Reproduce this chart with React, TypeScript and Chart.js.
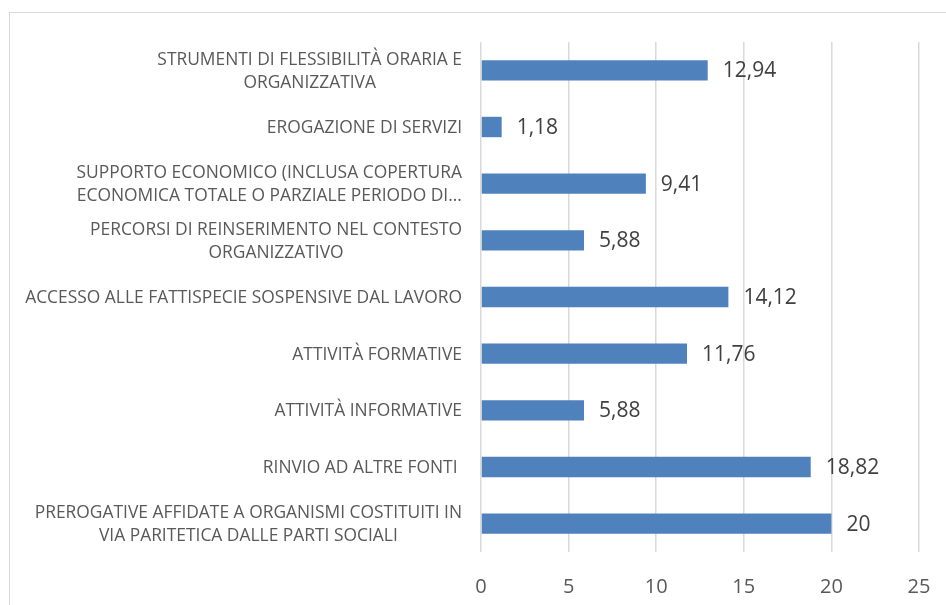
import React, { useEffect, useRef } from "react";
import { Chart, registerables } from "chart.js";

Chart.register(...registerables);

const categories: string[][] = [
  ["STRUMENTI DI FLESSIBILITÀ ORARIA E", "ORGANIZZATIVA"],
  ["EROGAZIONE DI SERVIZI"],
  ["SUPPORTO ECONOMICO (INCLUSA COPERTURA", "ECONOMICA TOTALE O PARZIALE PERIODO DI…"],
  ["PERCORSI DI REINSERIMENTO NEL CONTESTO", "ORGANIZZATIVO"],
  ["ACCESSO ALLE FATTISPECIE SOSPENSIVE DAL LAVORO"],
  ["ATTIVITÀ FORMATIVE"],
  ["ATTIVITÀ INFORMATIVE"],
  ["RINVIO AD ALTRE FONTI "],
  ["PREROGATIVE AFFIDATE A ORGANISMI COSTITUITI IN", "VIA PARITETICA DALLE PARTI SOCIALI"],
];

const values: number[] = [12.94, 1.18, 9.41, 5.88, 14.12, 11.76, 5.88, 18.82, 20];

const xTicks: number[] = [0, 5, 10, 15, 20, 25];

const fmt = (v: number) => String(v).replace(".", ",");

const FONT = '"Open Sans", "Liberation Sans", sans-serif';

const labelPlugin = {
  id: "customLabels",
  afterDraw(chart: any) {
    const ctx = chart.ctx as CanvasRenderingContext2D;
    const y = chart.scales.y;
    const x = chart.scales.x;
    ctx.save();
    ctx.font = `17.4px ${FONT}`;
    ctx.fillStyle = "#595959";
    ctx.textBaseline = "middle";
    ctx.textAlign = "center";
    const lineH = 23;
    categories.forEach((lines, i) => {
      const cy = y.getPixelForValue(i) + 1;
      const w = Math.max(...lines.map((l) => ctx.measureText(l).width));
      const cx = x.left - 19 - w / 2;
      lines.forEach((l, j) => {
        ctx.fillText(l, cx, cy + (j - (lines.length - 1) / 2) * lineH);
      });
    });
    const meta = chart.getDatasetMeta(0);
    ctx.font = `21px ${FONT}`;
    ctx.fillStyle = "#404040";
    ctx.textAlign = "left";
    meta.data.forEach((bar: any, i: number) => {
      ctx.fillText(fmt(values[i]), bar.x + 15, bar.y + 1);
    });
    ctx.restore();
  },
};

export default function App() {
  const ref = useRef<HTMLCanvasElement | null>(null);
  useEffect(() => {
    if (!ref.current) return;
    const chart = new Chart(ref.current, {
      type: "bar",
      data: {
        labels: categories.map((c) => c.join(" ")),
        datasets: [
          {
            data: values,
            backgroundColor: "#4f81bd",
            borderWidth: 0,
            categoryPercentage: 1,
            barPercentage: 0.36,
          },
        ],
      },
      options: {
        indexAxis: "y",
        responsive: false,
        animation: false,
        layout: { padding: { top: 42, right: 27, left: 0, bottom: 0 } },
        plugins: { legend: { display: false }, tooltip: { enabled: false } },
        scales: {
          x: {
            min: 0,
            max: 25,
            afterBuildTicks: (scale: any) => {
              scale.ticks = xTicks.map((v) => ({ value: v }));
            },
            afterFit: (scale: any) => {
              scale.height = 53;
              scale.paddingLeft = 0;
              scale.paddingRight = 0;
            },
            grid: { color: "#d9d9d9", lineWidth: 1.5, drawTicks: false },
            border: { display: false },
            ticks: {
              padding: 23,
              color: "#595959",
              font: { size: 20, family: FONT },
              callback: (v: any) => String(v),
            },
          },
          y: {
            afterFit: (scale: any) => {
              scale.width = 481;
            },
            grid: { display: false },
            border: { display: false },
            ticks: { display: false },
          },
        },
      },
      plugins: [labelPlugin],
    });
    return () => chart.destroy();
  }, []);
  return (
    <div
      style={{
        position: "fixed",
        left: 0,
        top: 0,
        width: 946,
        height: 605,
        overflow: "hidden",
        background: "#fff",
      }}
    >
      <div
        style={{
          position: "absolute",
          left: 9,
          top: 12,
          width: 1000,
          height: 700,
          border: "1px solid #d9d9d9",
        }}
      />
      <canvas
        ref={ref}
        width={946}
        height={605}
        style={{ position: "absolute", left: 0, top: 0 }}
      />
    </div>
  );
}
